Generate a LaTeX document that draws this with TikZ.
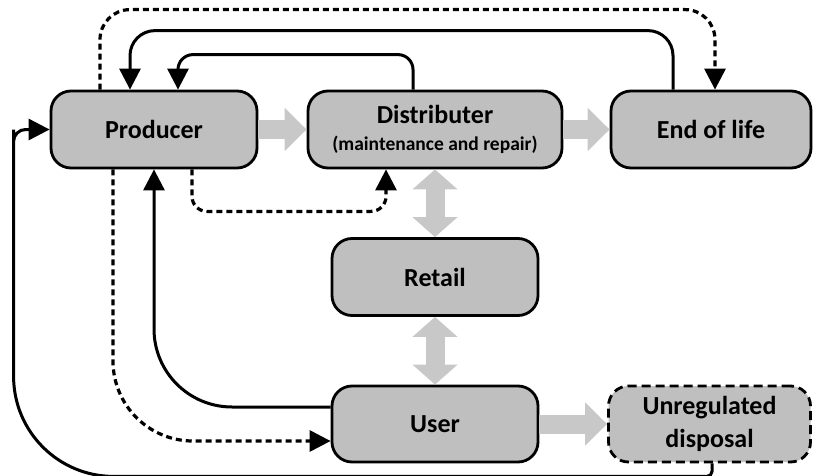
\documentclass[tikz,border=0pt]{standalone}
\usepackage{fontspec}
\setmainfont{Carlito}
\usetikzlibrary{arrows.meta}

\definecolor{boxgray}{HTML}{BFBFBF}
\definecolor{arrowgray}{HTML}{C8C8C8}

\tikzset{
  box/.style={draw, line width=2.8pt, rounded corners=20pt, fill=boxgray, minimum width=206pt, minimum height=77pt, align=center, font=\fontsize{26}{33}\selectfont\bfseries},
  flow/.style={line width=19pt, draw=arrowgray, -{Triangle[length=22pt,width=42pt]}},
  twoway/.style={line width=19pt, draw=arrowgray, {Triangle[length=20pt,width=44pt]}-{Triangle[length=20pt,width=44pt]}},
  link/.style={line width=3pt, -{Triangle[length=21pt,width=21pt]}},
  dlink/.style={link, line width=3.2pt, dash pattern=on 6pt off 4pt},
}

\begin{document}
\begin{tikzpicture}[x=1pt,y=-1pt]
\useasboundingbox (0,0) rectangle (813,476);
% boxes
\node[box] (prod) at (154,129.5) {Producer};
\node[box, minimum width=254pt] (dist) at (435,129.5) {Distributer\\[-6pt]{\fontsize{19.5}{22}\selectfont(maintenance and repair)}};
\node[box, minimum width=200pt] (eol) at (711,129.5) {End of life};
\node[box] (retail) at (435,277) {Retail};
\node[box, minimum height=76pt] (user) at (435,424) {User};
\node[box, minimum width=202pt, minimum height=76pt, dash pattern=on 9pt off 5pt] (disp) at (709.5,424) {Unregulated\\disposal};
% main flow
\draw[flow] (prod) -- (dist);
\draw[flow] (dist) -- (eol);
\draw[twoway] (dist) -- (retail);
\draw[twoway] (retail) -- (user);
\draw[flow] (user) -- (disp);
% return loops
\draw[dlink, rounded corners=30pt] ([xshift=-54pt]prod.north) -- ++(0,-80) -| ([xshift=4pt]eol.north);
\draw[link, rounded corners=25pt] ([xshift=-38pt]eol.north) -- ++(0,-59) -| ([xshift=-24pt]prod.north);
\draw[link, rounded corners=15pt] ([xshift=-22pt]dist.north) -- ++(0,-35) -| ([xshift=24pt]prod.north);
\draw[dlink, rounded corners=15pt] ([xshift=38pt]prod.south) -- ++(0,42) -| ([xshift=-49pt]dist.south);
\draw[dlink, rounded corners=80pt] ([xshift=-41pt]prod.south) |- ([yshift=-17pt]user.west);
\draw[link, rounded corners=78pt] ([yshift=17pt]user.west) -| (prod.south);
\draw[link] ([xshift=2.5pt]disp.south) [rounded corners=5pt] -- ++(0,13) [rounded corners=100pt] -| ([xshift=-36pt,yshift=-100pt]prod.west) [rounded corners=12pt] |- (prod.west);
\end{tikzpicture}
\end{document}
